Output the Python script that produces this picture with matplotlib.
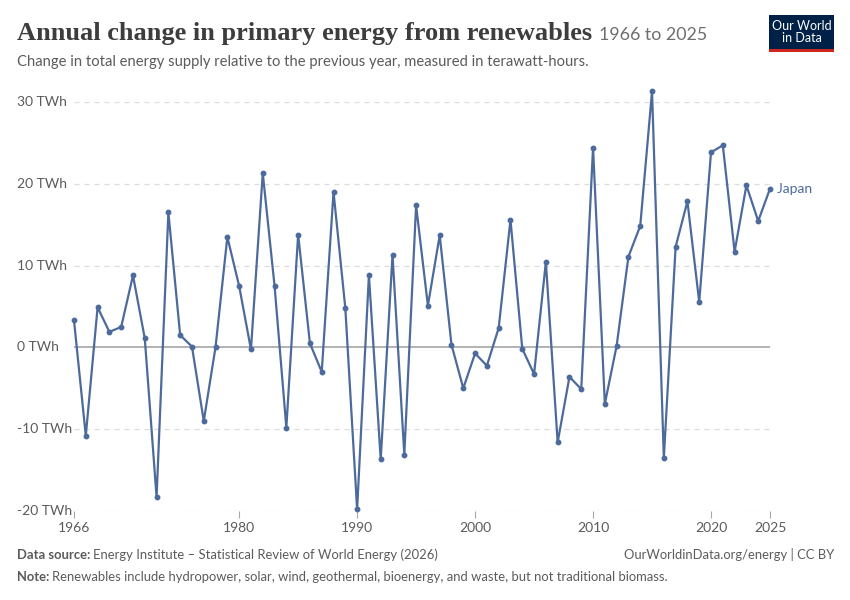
import matplotlib
matplotlib.use("Agg")
import matplotlib.pyplot as plt
import matplotlib.transforms as mtransforms
from matplotlib.patches import Rectangle

years = list(range(1966, 2026))
japan = [3.3, -10.8, 4.9, 1.9, 2.5, 8.8, 1.1, -18.3, 16.5, 1.5,
         0.1, -9.0, 0.05, 13.5, 7.5, -0.25, 21.3, 7.55, -9.8, 13.8,
         0.5, -3.0, 19.0, 4.8, -19.8, 8.85, -13.7, 11.3, -13.1, 17.35,
         5.1, 13.7, 0.33, -5.0, -0.73, -2.24, 2.37, 15.6, -0.16, -3.26,
         10.45, -11.6, -3.6, -5.1, 24.4, -6.9, 0.2, 11.1, 14.85, 31.3,
         -13.5, 12.3, 17.85, 5.55, 23.85, 24.7, 11.7, 19.8, 15.45, 19.4]
yticks = [-20, -10, 0, 10, 20, 30]
ytick_labels = ["-20 TWh", "-10 TWh", "0 TWh", "10 TWh", "20 TWh", "30 TWh"]
xticks = [1966, 1980, 1990, 2000, 2010, 2020, 2025]
series_name = "Japan"

BLUE = "#4C6A9C"
W, H = 850, 600
fig = plt.figure(figsize=(8.5, 6), dpi=100)
plt.rcParams['font.family'] = ['Lato', 'DejaVu Sans']

ax = fig.add_axes([74 / W, 1 - 511 / H, (770 - 74) / W, (511 - 102) / H])
ax.set_xlim(1966, 2025)
ax.set_ylim(-20, 30)
for s in ax.spines.values():
    s.set_visible(False)

for v in yticks:
    if v == 0:
        ax.axhline(v, color="#a6a6a6", lw=1.2, zorder=1)
    else:
        ax.axhline(v, color="#dcdcdc", lw=0.9, ls=(0, (4, 4)), zorder=0)

ax.plot(years, japan, color=BLUE, lw=1.6, marker="o", ms=3.2, clip_on=False, zorder=3)

ax.set_yticks([])
ax.set_xticks(xticks)
ax.set_xticklabels([str(x) for x in xticks], fontsize=10, color="#5b5b5b")
ax.tick_params(axis="x", length=5, width=0.8, color="#a6a6a6", pad=3)

trans = mtransforms.blended_transform_factory(fig.transFigure, ax.transData)
for v, lab in zip(yticks, ytick_labels):
    ax.text(17 / W, v, lab, transform=trans, ha="left", va="center",
            fontsize=10, color="#5b5b5b")

ax.text(2025, japan[-1], "  " + series_name, ha="left", va="center", fontsize=10,
        color=BLUE, clip_on=False)

# Title
renderer = fig.canvas.get_renderer()
t = fig.text(17 / W, 1 - 40 / H, "Annual change in primary energy from renewables",
             fontsize=19, fontweight="bold", family=["Liberation Serif", "DejaVu Serif"],
             color="#3d3d3d", ha="left", va="baseline")
bb = t.get_window_extent(renderer)
fig.text((bb.x1 + 7) / W, 1 - 40 / H, "1966 to 2025", fontsize=12.8, color="#6e6e6e",
         ha="left", va="baseline")
fig.text(17 / W, 1 - 66 / H,
         "Change in total energy supply relative to the previous year, measured in terawatt-hours.",
         fontsize=10.6, color="#5b5b5b", ha="left", va="baseline")

# Logo
logo = Rectangle((769 / W, 1 - 52 / H), 65 / W, 37 / H, transform=fig.transFigure,
                 facecolor="#002147", edgecolor="none")
fig.patches.append(logo)
stripe = Rectangle((769 / W, 1 - 52 / H), 65 / W, 3 / H, transform=fig.transFigure,
                   facecolor="#ce261e", edgecolor="none")
fig.patches.append(stripe)
fig.text(801.5 / W, 1 - 32.5 / H, "Our World\nin Data", fontsize=9, color="white",
         ha="center", va="center", linespacing=1.0)

# Footer
FS = 9.4
t1 = fig.text(17 / W, 1 - 559 / H, "Data source:", fontsize=FS, color="#5b5b5b",
              fontweight="bold", ha="left", va="baseline")
bb1 = t1.get_window_extent(renderer)
fig.text((bb1.x1 + 3) / W, 1 - 559 / H,
         "Energy Institute – Statistical Review of World Energy (2026)",
         fontsize=FS, color="#5b5b5b", ha="left", va="baseline")
fig.text(834 / W, 1 - 559 / H, "OurWorldinData.org/energy | CC BY", fontsize=FS,
         color="#5b5b5b", ha="right", va="baseline")
t2 = fig.text(17 / W, 1 - 581 / H, "Note:", fontsize=FS, color="#5b5b5b",
              fontweight="bold", ha="left", va="baseline")
bb2 = t2.get_window_extent(renderer)
fig.text((bb2.x1 + 3) / W, 1 - 581 / H,
         "Renewables include hydropower, solar, wind, geothermal, bioenergy, and waste, but not traditional biomass.",
         fontsize=FS, color="#5b5b5b", ha="left", va="baseline")

fig.savefig("out.png", dpi=100, facecolor="white")
